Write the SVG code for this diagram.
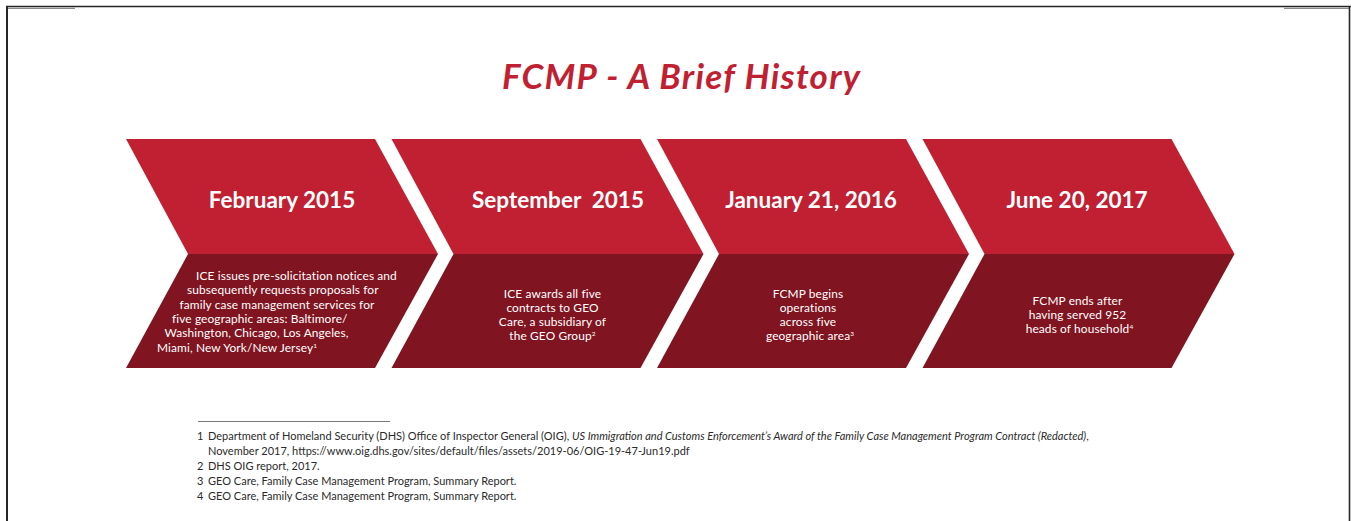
<svg xmlns="http://www.w3.org/2000/svg" width="1351" height="521" viewBox="0 0 1351 521">
<style>
.up{fill:#C11F32}
.lo{fill:#801420}
.date{font-family:Lato,"Open Sans","Liberation Sans",sans-serif;font-weight:700;font-size:22.5px;fill:#fff;text-anchor:middle}
.body{font-family:Lato,"Open Sans","Liberation Sans",sans-serif;font-size:11.9px;letter-spacing:0.12px;fill:#fff}
.mid{text-anchor:middle}
.sup{font-size:6.5px}
.fn{font-family:Lato,"Open Sans","Liberation Sans",sans-serif;font-size:11px;fill:#2b2b2b}
</style>
<rect width="1351" height="521" fill="#fff"/>
<g id="frame" fill="none">
<line x1="6" y1="6.5" x2="1351" y2="6.5" stroke="#262626" stroke-width="1.6"/>
<line x1="8" y1="8.3" x2="75" y2="8.3" stroke="#8a8a8a" stroke-width="1.2"/>
<line x1="1284" y1="8.3" x2="1349" y2="8.3" stroke="#8a8a8a" stroke-width="1.2"/>
<line x1="7" y1="6" x2="7" y2="521" stroke="#262626" stroke-width="2"/>
<line x1="1349.5" y1="6" x2="1349.5" y2="521" stroke="#262626" stroke-width="1.6"/>
</g>
<text id="title" x="681" y="89" font-family="Lato,'Open Sans','Liberation Sans',sans-serif" font-weight="700" font-style="italic" font-size="35" fill="#C11F32" text-anchor="middle" textLength="358" lengthAdjust="spacing">FCMP - A Brief History</text>
<g id="connectors"></g>
<g id="node1">
<path class="up" d="M126,139H375L438,254H188Z"/>
<path class="lo" d="M188,254H438L375,368H126Z"/>
<text class="date" x="282" y="207.5">February 2015</text>
<text class="body"><tspan x="196" y="280">ICE issues pre-solicitation notices and</tspan><tspan x="187" y="294.3">subsequently requests proposals for</tspan><tspan x="179.5" y="308.6">family case management services for</tspan><tspan x="172" y="322.9">five geographic areas: Baltimore/</tspan><tspan x="164.5" y="337.2">Washington, Chicago, Los Angeles,</tspan><tspan x="157" y="351.5">Miami, New York/New Jersey<tspan class="sup" dy="-4">1</tspan></tspan></text>
</g>
<g id="node2" transform="translate(265.5,0)">
<path class="up" d="M126,139H375L438,254H188Z"/>
<path class="lo" d="M188,254H438L375,368H126Z"/>
<text class="date" x="292.5" y="207.5">September&#160; 2015</text>
<text class="body mid"><tspan x="287" y="297.5">ICE awards all five</tspan><tspan x="287" y="311.8">contracts to GEO</tspan><tspan x="287" y="326.1">Care, a subsidiary of</tspan><tspan x="287" y="340.4">the GEO Group<tspan class="sup" dy="-4">2</tspan></tspan></text>
</g>
<g id="node3" transform="translate(531,0)">
<path class="up" d="M126,139H375L438,254H188Z"/>
<path class="lo" d="M188,254H438L375,368H126Z"/>
<text class="date" x="280" y="207.5">January 21, 2016</text>
<text class="body mid"><tspan x="277" y="297.5">FCMP begins</tspan><tspan x="277" y="311.8">operations</tspan><tspan x="277" y="326.1">across five</tspan><tspan x="279" y="340.4">geographic area<tspan class="sup" dy="-4">3</tspan></tspan></text>
</g>
<g id="node4" transform="translate(796.5,0)">
<path class="up" d="M126,139H375L438,254H188Z"/>
<path class="lo" d="M188,254H438L375,368H126Z"/>
<text class="date" x="280.5" y="207.5">June 20, 2017</text>
<text class="body mid"><tspan x="281" y="304.5">FCMP ends after</tspan><tspan x="281" y="318.8">having served 952</tspan><tspan x="283" y="333.1">heads of household<tspan class="sup" dy="-4">4</tspan></tspan></text>
</g>
<g id="footnotes">
<line x1="198" y1="421.5" x2="390" y2="421.5" stroke="#555" stroke-width="0.8"/>
<text class="fn"><tspan x="197" y="440">1</tspan><tspan x="208" y="440">Department of Homeland Security (DHS) Office of Inspector General (OIG), <tspan font-style="italic">US Immigration and Customs Enforcement’s Award of the Family Case Management Program Contract (Redacted)</tspan>,</tspan><tspan x="208" y="455">November 2017, https://www.oig.dhs.gov/sites/default/files/assets/2019-06/OIG-19-47-Jun19.pdf</tspan><tspan x="197" y="470">2</tspan><tspan x="208" y="470">DHS OIG report, 2017.</tspan><tspan x="197" y="485">3</tspan><tspan x="208" y="485">GEO Care, Family Case Management Program, Summary Report.</tspan><tspan x="197" y="500">4</tspan><tspan x="208" y="500">GEO Care, Family Case Management Program, Summary Report.</tspan></text>
</g>
</svg>
